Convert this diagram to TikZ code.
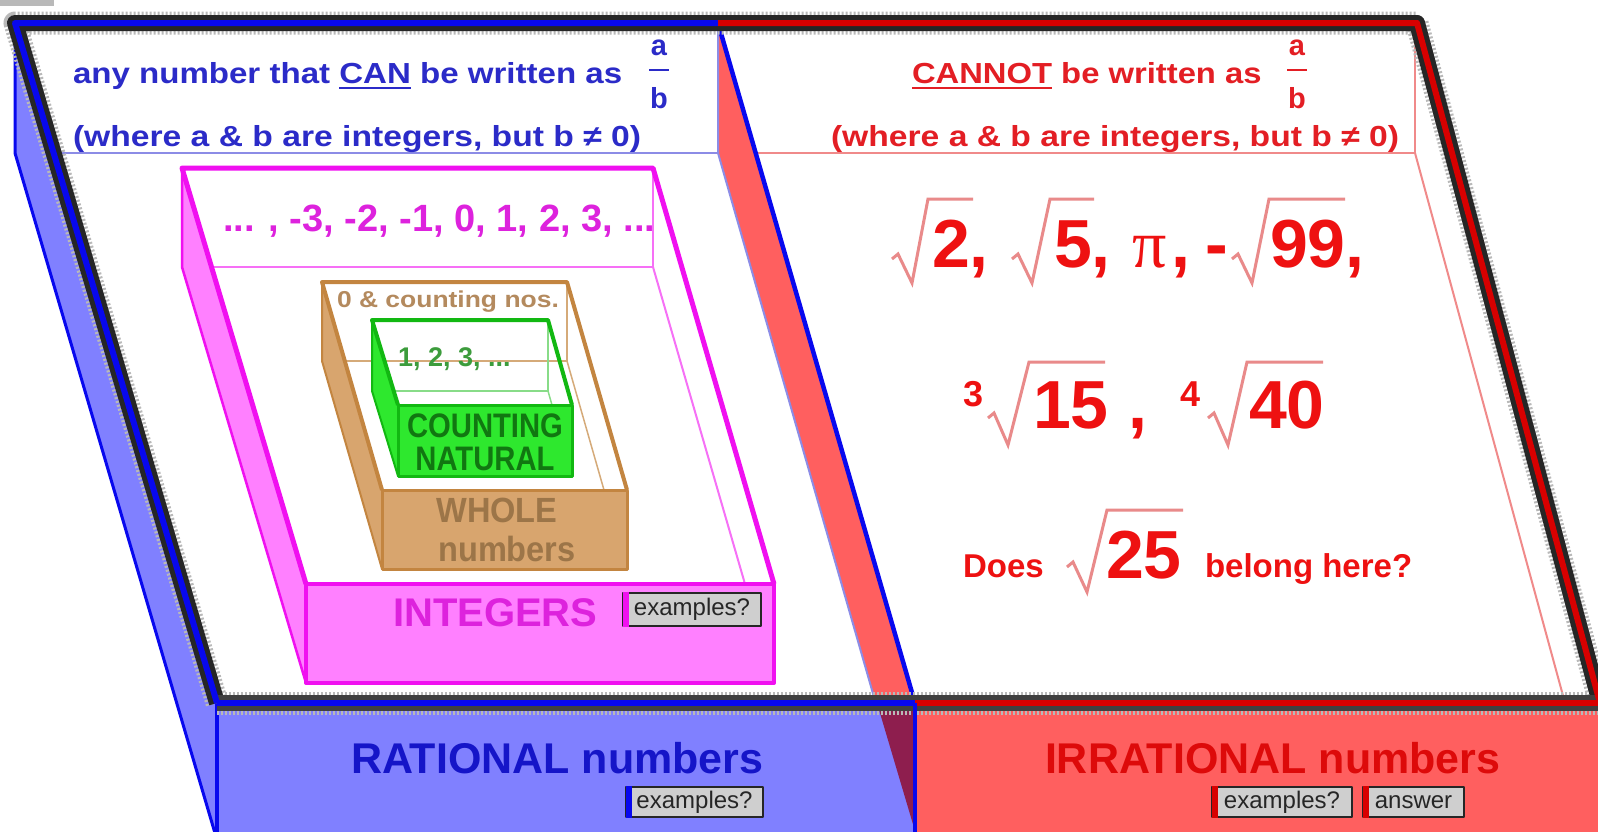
\documentclass[tikz,border=0pt]{standalone}
\usepackage{graphicx}
\usepackage{fontspec}
\setmainfont{Liberation Sans}
\newfontfamily\serifpi{Liberation Serif}
\usetikzlibrary{calc}
\definecolor{bfill}{HTML}{8080FF}
\definecolor{bline}{HTML}{0808EE}
\definecolor{btext}{HTML}{1515C8}
\definecolor{rfill}{HTML}{FF5F5F}
\definecolor{rline}{HTML}{D80000}
\definecolor{rtext}{HTML}{DD0A0A}
\definecolor{dkred}{HTML}{8E1E4E}
\definecolor{mfill}{HTML}{FF80FF}
\definecolor{mline}{HTML}{F010F0}
\definecolor{mtext}{HTML}{DD22DD}
\definecolor{tfill}{HTML}{D8A56E}
\definecolor{tline}{HTML}{C38540}
\definecolor{ttext}{HTML}{9C7548}
\definecolor{thead}{HTML}{B48A5E}
\definecolor{gfill}{HTML}{2EE82E}
\definecolor{gline}{HTML}{12B812}
\definecolor{gtext}{HTML}{117711}
\definecolor{ghead}{HTML}{3C9C3C}
\definecolor{htblue}{HTML}{2B2BC8}
\definecolor{htred}{HTML}{E31E24}
\definecolor{numred}{HTML}{EE1111}
\definecolor{lav}{HTML}{8C8CE6}
\definecolor{pinkl}{HTML}{F08A8A}
\definecolor{radc}{HTML}{E98A8A}
\definecolor{btnc}{HTML}{CFCFCF}
\newcommand\fsz[1]{\fontsize{#1}{#1}\selectfont}
\newcommand\myul[1]{\setbox0\hbox{#1}\rlap{\rule[-6pt]{\wd0}{2.5pt}}\box0\relax}
\begin{document}
\begin{tikzpicture}[x=1pt,y=-1pt,line join=round,
  txt/.style={inner sep=0pt,outer sep=0pt,anchor=base west},
  ctxt/.style={inner sep=0pt,outer sep=0pt,anchor=base},
  btn/.style={draw=black!85,line width=2.5pt,fill=btnc,inner sep=0pt,font=\fsz{24},text=black!85},
  radl/.style={draw=radc,line width=3pt,line join=miter},
  dither/.style={draw=gray!55,line width=23pt,dash pattern=on 2pt off 2pt},
  rimk/.style={draw=black!85,line width=16pt},
  rimc/.style={line width=6pt}]
\useasboundingbox (0,0) rectangle (1598,831);
\clip (0,0) rectangle (1598,831);
\fill[white] (0,0) rectangle (1598,831);
\fill[gray!55] (0,0) rectangle (54,6);

% side faces of the two big trays
\filldraw[fill=bfill,draw=bline,line width=3pt] (15,23) -- (217,703) -- (217,840) -- (15,153) -- cycle;
\filldraw[fill=rfill,draw=lav,line width=2pt] (718,23) -- (915,703) -- (915,840) -- (718,153) -- cycle;
% front faces
\filldraw[fill=bfill,draw=bline,line width=4pt] (217,703) rectangle (915,845);
\fill[dkred] (877,703) -- (915,703) -- (915,831) -- cycle;
\filldraw[fill=rfill,draw=rline,line width=3pt] (915,703) rectangle (1612,845);
% back wall lines
\draw[lav,line width=2.5pt] (54,153) -- (718,153) -- (718,23);
\draw[pinkl,line width=2pt] (756,153) -- (1415,153) -- (1415,23);
\draw[pinkl,line width=2pt] (1415,153) -- (1565,703);
% divider
\draw[bline,line width=4.5pt] (718,23) -- (915,703);
% rims
\draw[dither] (217,703) -- (15,23) -- (1417,23) -- (1600,703);
\draw[dither] (217,703) -- (1612,703);
\draw[rimk] (217,703) -- (15,23) -- (1417,23) -- (1600,703);
\draw[rimk,draw=black!75] (217,703) -- (1612,703);
\draw[rimc,bline] (217,703) -- (15,23) -- (718,23);
\draw[rimc,rline] (718,23) -- (1417,23) -- (1600,703);
\draw[rimc,bline] (217,703) -- (915,703);
\draw[rimc,rline] (915,703) -- (1612,703);
\draw[bline,line width=4pt] (915,703) -- (915,840);

% INTEGERS tray
\filldraw[fill=mfill,draw=mline,line width=2.5pt] (182,168) -- (306,584) -- (306,683) -- (182,267) -- cycle;
\draw[mline!60,line width=2pt] (211,267) -- (653,267) -- (653,168);
\draw[mline!60,line width=2pt] (653,267) -- (745,584);
\filldraw[fill=mfill,draw=mline,line width=4pt] (306,584) rectangle (774,683);
\draw[mline,line width=5pt] (306,584) -- (182,168) -- (653,168) -- (774,584);

% WHOLE tray
\filldraw[fill=tfill,draw=tline,line width=2pt] (322,282) -- (382,490) -- (382,569) -- (322,361) -- cycle;
\draw[tline!70,line width=1.5pt] (345,361) -- (567,361) -- (567,282);
\draw[tline!70,line width=1.5pt] (567,361) -- (604,490);
\filldraw[fill=tfill,draw=tline,line width=3pt] (382,490) rectangle (627,569);
\draw[tline,line width=4pt] (382,490) -- (322,282) -- (567,282) -- (627,490);

% COUNTING tray
\filldraw[fill=gfill,draw=gline,line width=2pt] (372,320) -- (398,405) -- (398,476) -- (372,391) -- cycle;
\draw[gline!50,line width=1.5pt] (394,391) -- (548,391) -- (548,320);
\draw[gline!50,line width=1.5pt] (548,391) -- (552,405);
\filldraw[fill=gfill,draw=gline,line width=3pt] (398,405) rectangle (572,476);
\draw[gline,line width=4pt] (398,405) -- (372,320) -- (548,320) -- (572,405);

% header texts
\node[txt,text=htblue] (h1) at (73,83) {\fsz{29}\bfseries\scalebox{1.14}[1]{any number that \myul{CAN} be written as}};
\node[txt,text=htblue] (h2) at (73,146) {\fsz{29}\bfseries\scalebox{1.16}[1]{(where a \& b are integers, but b ≠ 0)}};
\node[ctxt,text=htblue] (fa1) at (659,55) {\fsz{29}\bfseries a};
\node[ctxt,text=htblue] (fb1) at (659,108) {\fsz{29}\bfseries b};
\draw[htblue,line width=2.5pt] (649,70) -- (669,70);
\node[txt,text=htred] (h3) at (912,83) {\fsz{29}\bfseries\scalebox{1.13}[1]{\myul{CANNOT} be written as}};
\node[txt,text=htred] (h4) at (831,146) {\fsz{29}\bfseries\scalebox{1.16}[1]{(where a \& b are integers, but b ≠ 0)}};
\node[ctxt,text=htred] (fa2) at (1297,55) {\fsz{29}\bfseries a};
\node[ctxt,text=htred] (fb2) at (1297,108) {\fsz{29}\bfseries b};
\draw[htred,line width=2.5pt] (1287,70) -- (1307,70);

% inner tray texts
\node[txt,text=mtext] (ih) at (223,231) {\fsz{38}\bfseries ... , -3, -2, -1, 0, 1, 2, 3, ...};
\node[txt,text=mtext] (il) at (393,626) {\fsz{40}\bfseries INTEGERS};
\node[btn,minimum width=138pt,minimum height=33pt] (ib) at (692,609.5) {examples?};
\fill[mline] ([xshift=1.5pt]ib.north west) rectangle ([xshift=7pt]ib.south west);

\node[txt,text=thead] (wh) at (337,307) {\fsz{23}\bfseries\scalebox{1.15}[1]{0 \& counting nos.}};
\node[ctxt,text=ttext] (w1) at (497,522) {\fsz{35}\bfseries\scalebox{0.93}[1]{WHOLE}};
\node[ctxt,text=ttext] (w2) at (507,561) {\fsz{35}\bfseries\scalebox{0.93}[1]{numbers}};

\node[txt,text=ghead] (ch) at (398,366) {\fsz{27}\bfseries 1, 2, 3, ...};
\node[ctxt,text=gtext] (c1) at (485,437) {\fsz{34}\bfseries\scalebox{0.86}[1]{COUNTING}};
\node[ctxt,text=gtext] (c2) at (485,470) {\fsz{34}\bfseries\scalebox{0.86}[1]{NATURAL}};

% front labels
\node[txt,text=btext] (rl) at (351,773) {\fsz{43}\bfseries RATIONAL numbers};
\node[btn,minimum width=137pt,minimum height=30pt] (rb) at (694.5,802) {examples?};
\fill[bline] ([xshift=1.5pt]rb.north west) rectangle ([xshift=7pt]rb.south west);
\node[txt,text=rtext] (irl) at (1045,773) {\fsz{43}\bfseries IRRATIONAL numbers};
\node[btn,minimum width=140pt,minimum height=30pt] (eb) at (1282,802) {examples?};
\fill[rline] ([xshift=1.5pt]eb.north west) rectangle ([xshift=7pt]eb.south west);
\node[btn,minimum width=101pt,minimum height=30pt] (ab) at (1413.5,802) {answer};
\fill[rline] ([xshift=1.5pt]ab.north west) rectangle ([xshift=7pt]ab.south west);

% irrational examples
\begin{scope}[every node/.style={txt,text=numred}]
\draw[radl] (892,259) -- (898,254) -- (912,283) -- (928,199) -- (973,199);
\node (n2) at (932,267) {\fsz{68}\bfseries 2,};
\draw[radl] (1012,259) -- (1018,254) -- (1032,283) -- (1050,199) -- (1094,199);
\node (n5) at (1054,267) {\fsz{68}\bfseries 5,};
\node (npi) at (1132,267) {\fsz{68}{\serifpi π}\hspace{5pt}\bfseries ,};
\node (nm) at (1205,267) {\fsz{68}\bfseries -};
\draw[radl] (1232,259) -- (1238,254) -- (1252,283) -- (1269,199) -- (1345,199);
\node (n99) at (1270,267) {\fsz{68}\bfseries 99,};

\node (s3) at (963,406) {\fsz{36}\bfseries 3};
\draw[radl] (988,418) -- (994,413) -- (1008,445) -- (1029,362) -- (1105,362);
\node (n15) at (1033,428) {\fsz{68}\bfseries 15};
\node (cm) at (1128,428) {\fsz{68}\bfseries ,};
\node (s4) at (1180,406) {\fsz{36}\bfseries 4};
\draw[radl] (1208,418) -- (1214,413) -- (1228,445) -- (1247,362) -- (1323,362);
\node (n40) at (1249,428) {\fsz{68}\bfseries 40};

\node (does) at (963,577) {\fsz{33}\bfseries Does};
\draw[radl] (1067,567) -- (1073,562) -- (1087,592) -- (1107,510) -- (1183,510);
\node (n25) at (1106,578) {\fsz{68}\bfseries 25};
\node (bh) at (1205,577) {\fsz{33}\bfseries belong here?};
\end{scope}
\end{tikzpicture}
\end{document}
